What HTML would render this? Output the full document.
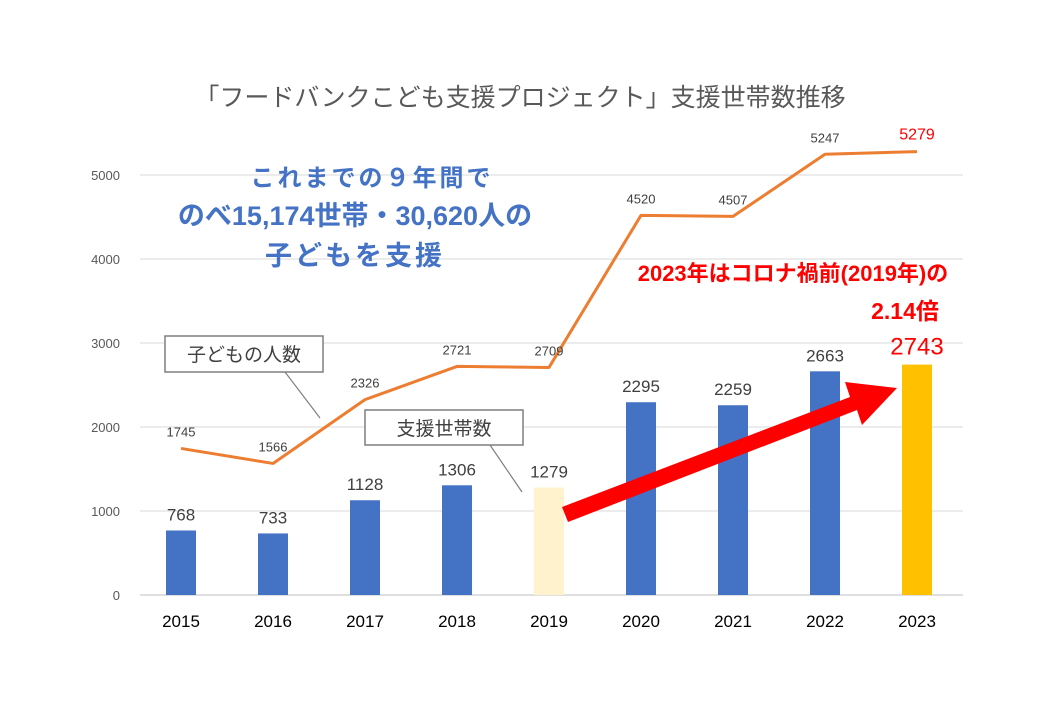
<!DOCTYPE html>
<html><head><meta charset="utf-8">
<style>
body{margin:0;background:#fff;}
svg{display:block;font-family:"Liberation Sans","Noto Sans CJK JP",sans-serif;}
</style></head>
<body>
<svg id="chart" width="1040" height="720" viewBox="0 0 1040 720">
<text x="520" y="106" text-anchor="middle" font-size="25" fill="#595959">「フードバンクこども支援プロジェクト」支援世帯数推移</text>
<g id="grid"></g>
<g id="bars"></g>
<g id="line"></g>
<g id="labels"></g>
<g>
<line x1="285" y1="372" x2="320" y2="418" stroke="#7f7f7f" stroke-width="1.2"/>
<rect x="165" y="336" width="158" height="36" fill="#fff" stroke="#7f7f7f" stroke-width="1.5"/>
<text x="244" y="361" text-anchor="middle" font-size="19" fill="#404040">子どもの人数</text>
</g>
<g>
<line x1="490" y1="445" x2="522" y2="492" stroke="#7f7f7f" stroke-width="1.2"/>
<rect x="365" y="410" width="158" height="35" fill="#fff" stroke="#7f7f7f" stroke-width="1.5"/>
<text x="444" y="435" text-anchor="middle" font-size="19" fill="#404040">支援世帯数</text>
</g>
<g font-weight="bold" fill="#4472C4" text-anchor="middle">
<text x="372" y="186" font-size="24" letter-spacing="3">これまでの９年間で</text>
<text x="355" y="225" font-size="27">のべ15,174世帯・30,620人の</text>
<text x="355" y="265" font-size="27" letter-spacing="3">子どもを支援</text>
</g>
<polygon points="562,507 850,397 845,382 897,388 862,425 857,410 568,522" fill="#FF0000"/>
<g font-weight="bold" fill="#FF0000" text-anchor="middle">
<text x="793" y="281" font-size="22">2023年はコロナ禍前(2019年)の</text>
<text x="905" y="319" font-size="23">2.14倍</text>
</g>
<script>
const years=["2015","2016","2017","2018","2019","2020","2021","2022","2023"];
const households=[768,733,1128,1306,1279,2295,2259,2663,2743];
const children=[1745,1566,2326,2721,2709,4520,4507,5247,5279];
const yTicks=[0,1000,2000,3000,4000,5000];
const ns="http://www.w3.org/2000/svg";
const x=i=>181+i*92;
const y=v=>595-v*0.084;
function mk(t,a,p,txt){const e=document.createElementNS(ns,t);for(const k in a)e.setAttribute(k,a[k]);if(txt!==undefined)e.textContent=txt;document.getElementById(p).appendChild(e);return e;}
yTicks.forEach(v=>{
 const l=mk('line',{x1:140,x2:963,y1:y(v),y2:y(v),stroke:v===0?'#bfbfbf':'#d9d9d9','stroke-width':1},'grid');
 
 
 const t=mk('text',{x:120,y:y(v)+5,'text-anchor':'end','font-size':13,fill:'#595959'},'grid',v);
 
 
});
years.forEach((yr,i)=>{
 const t=mk('text',{x:x(i),y:627,'text-anchor':'middle','font-size':17,fill:'#000'},'labels',yr);
 
 
 const h=households[i];
 const col=i===4?'#FFF2CC':(i===8?'#FFC000':'#4472C4');
 const b=mk('rect',{x:x(i)-15,y:y(h),width:30,height:y(0)-y(h),fill:col},'bars');
 
 
 const bl=mk('text',{x:x(i),y:y(h)-10,'text-anchor':'middle','font-size':i===8?24:17,fill:i===8?'#FF0000':'#404040'},'labels',h);
 
 
 const cl=mk('text',{x:x(i),y:y(children[i])-12,'text-anchor':'middle','font-size':i===8?16:13,fill:i===8?'#FF0000':'#404040'},'labels',children[i]);
 
 
});
const pl=mk('polyline',{points:children.map((v,i)=>x(i)+','+y(v)).join(' '),fill:'none',stroke:'#ED7D31','stroke-width':3,'stroke-linejoin':'round'},'line');


</script>
</svg>
</body></html>
